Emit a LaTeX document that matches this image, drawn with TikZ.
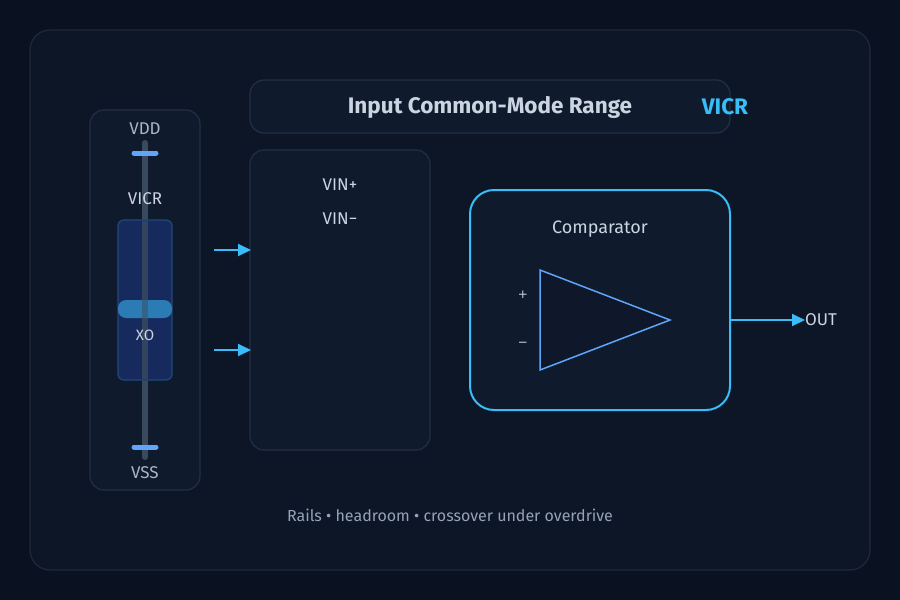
\documentclass[tikz,border=0pt]{standalone}
\usepackage{fontspec}
\setmainfont{Fira Sans}
\newfontfamily\symf{DejaVu Sans}
\usetikzlibrary{arrows.meta}
\definecolor{bg}{HTML}{0A1120}
\definecolor{panel}{HTML}{0D1626}
\definecolor{pborder}{HTML}{1E2A3B}
\definecolor{box}{HTML}{0F1A2C}
\definecolor{bborder}{HTML}{223046}
\definecolor{cyanc}{HTML}{38BDF8}
\definecolor{blu}{HTML}{60A5FA}
\definecolor{txt}{HTML}{CBD5E1}
\definecolor{muted}{HTML}{94A3B8}
\definecolor{band}{HTML}{172A5E}
\definecolor{bandb}{HTML}{1F4A7A}
\definecolor{pill}{HTML}{2B7BB5}
\definecolor{stem}{HTML}{3A4A5E}
\tikzset{
  x=1pt,y=-1pt,
  panelbox/.style={draw=pborder,fill=panel,line width=1.2,rounded corners=20},
  sbox/.style={draw=bborder,fill=box,line width=1.2,rounded corners=14},
  lbl/.style={text=txt,font=\fontsize{17}{20}\selectfont,inner sep=0},
  arr/.style={draw=cyanc,line width=2,-{Triangle[length=13,width=12]}},
}
\begin{document}
\begin{tikzpicture}
\fill[bg] (0,0) rectangle (900,600);
\useasboundingbox (0,0) rectangle (900,600);
\draw[panelbox] (30,30) rectangle (870,570);
% title
\draw[sbox] (250,80) rectangle (730,133);
\node[lbl,font=\fontsize{22.5}{26}\selectfont\bfseries,text=txt] (title) at (490,107) {Input Common-Mode Range};
\node[lbl,font=\fontsize{22.5}{26}\selectfont\bfseries,text=cyanc] (vicrT) at (725,107) {VICR};
% rail box
\draw[sbox] (90,110) rectangle (200,490);
\node[lbl,text=muted!60!txt] (vdd) at (145,129) {VDD};
\node[lbl,text=muted!60!txt] (vss) at (145,473) {VSS};
\draw[draw=stem,line width=6,line cap=round] (145,143) -- (145,457);
\draw[blu,line width=5,line cap=round] (134,153) -- (156,153);
\draw[blu,line width=5,line cap=round] (134,447) -- (156,447);
\node[lbl] (vicr) at (145,199) {VICR};
\draw[draw=bandb,fill=band,line width=1.2,rounded corners=6] (118,220) rectangle (172,380);
\draw[draw=stem!80!band,line width=6] (145,221) -- (145,379);
\draw[fill=pill,draw=none,rounded corners=8] (118,300) rectangle (172,318);
\draw[draw=stem!50!pill,line width=6] (145,300) -- (145,318);
\node[lbl,font=\fontsize{15}{17}\selectfont] (xo) at (145,335) {XO};
% input box
\draw[sbox] (250,150) rectangle (430,450);
\node[lbl] (vinp) at (340,185) {VIN+};
\node[lbl] (vinm) at (340,219) {VIN\textminus};
\coordinate (a1s) at (214,250); \coordinate (a1e) at (251,250);
\coordinate (a2s) at (214,350); \coordinate (a2e) at (251,350);
\draw[arr] (a1s) -- (a1e);
\draw[arr] (a2s) -- (a2e);
% comparator
\draw[draw=cyanc,fill=box,line width=2,rounded corners=24] (470,190) rectangle (730,410) ;
\node[lbl,font=\fontsize{18}{21}\selectfont] (comp) at (600,229) {Comparator};
\draw[blu,line width=1.5,fill=box!80!bg] (540,270) -- (670,320) -- (540,370) -- cycle;
\node[lbl,font=\symf\fontsize{12}{14}\selectfont] (plus) at (523,295) {+};
\node[lbl,font=\symf\fontsize{12}{14}\selectfont] (minus) at (523,344) {−};
\coordinate (cout) at (731,320);
\node[lbl,anchor=west] (out) at (805,320) {OUT};
\draw[arr] (cout) -- (out.west);
\node[lbl,text=muted,font=\fontsize{16}{19}\selectfont] (cap) at (450,515) {Rails • headroom • crossover under overdrive};
\end{tikzpicture}
\end{document}
